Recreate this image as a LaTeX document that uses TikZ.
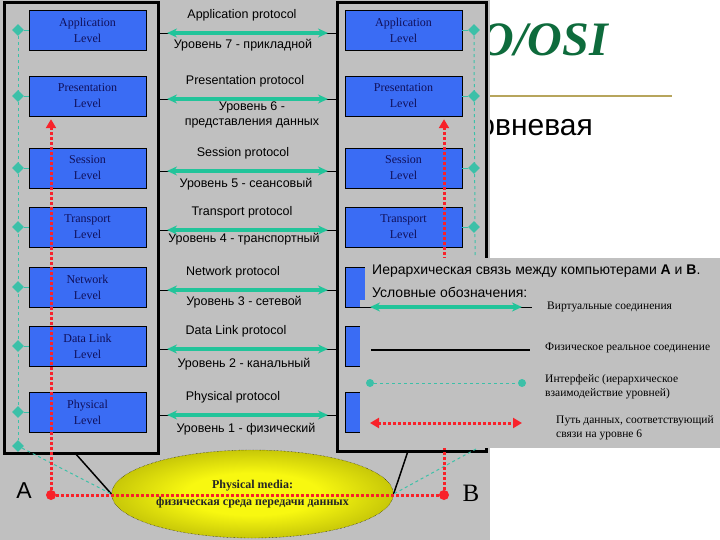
\documentclass[tikz,border=0pt]{standalone}
\usepackage{fontspec}
\setmainfont{Liberation Serif}
\setsansfont{Liberation Sans}
\usetikzlibrary{arrows.meta,shapes.geometric}
\definecolor{panelgray}{HTML}{C0C0C0}
\definecolor{levelblue}{HTML}{3A6CF4}
\definecolor{levelink}{HTML}{10105A}
\definecolor{virtgreen}{HTML}{22C49A}
\definecolor{ifgreen}{HTML}{3CC0A8}
\definecolor{pathred}{HTML}{F8222A}
\definecolor{titlegreen}{HTML}{0E6B3C}
\definecolor{rulegold}{HTML}{B7A55C}
\definecolor{mediayellow}{HTML}{F8F810}
\definecolor{mediaolive}{HTML}{989800}
\pgfdeclareradialshading{mediaglow}{\pgfpoint{0bp}{0bp}}{color(0bp)=(mediayellow);
  color(12bp)=(mediayellow); color(38bp)=(mediaolive); color(50bp)=(mediaolive)}

\tikzset{
  level/.style={draw=black,fill=levelblue,minimum width=117pt,minimum height=40pt,
    inner sep=0pt,align=center,text=levelink,font=\fontsize{12}{16}\selectfont},
  proto/.style={font=\sffamily\fontsize{12.5}{15}\selectfont,inner sep=0pt,align=center},
  frame/.style={draw=black,line width=3pt},
  wire/.style={draw=black,line width=0.8pt},
  virt/.style={virtgreen,line width=3.5pt,{Stealth[length=10pt,width=9pt]}-{Stealth[length=10pt,width=9pt]}},
  ifline/.style={ifgreen,dashed,line width=1pt},
  ifdot/.style={diamond,fill=ifgreen,inner sep=0pt,minimum width=12pt,minimum height=12pt},
  datapath/.style={pathred,dash pattern=on 3pt off 2pt,line width=3pt},
  redtip/.tip={Triangle[length=9pt,width=10pt]},
  legtext/.style={font=\fontsize{11.5}{14}\selectfont,anchor=west,align=left,inner sep=0pt},
  legsans/.style={font=\sffamily\fontsize{14}{16}\selectfont,anchor=west,inner sep=0pt},
}

\begin{document}
\begin{tikzpicture}[x=1pt,y=-1pt]
  \useasboundingbox (0,0) rectangle (720,540);
  \fill[white] (0,0) rectangle (720,540);
  \node[anchor=east,inner sep=0pt,text=titlegreen,font=\bfseries\itshape\fontsize{48}{48}\selectfont] (title) at (608,40) {O/OSI};
  \draw[rulegold,line width=2pt] (480,96) -- (672,96);
  \node[anchor=east,inner sep=0pt,font=\sffamily\fontsize{30}{30}\selectfont] (subtitle) at (593,128) {овневая};
  \fill[panelgray] (0,0) rectangle (490,540);

  \draw[frame] (4,3) rectangle (158,453);
  \draw[frame] (337,3) rectangle (486,451);

  \foreach \n/\t/\lv/\pt/\px/\bt/\bx/\by in {
    1/10/{Application\\Level}/{Application protocol}/242/{Уровень 7 - прикладной}/243/45,
    2/76/{Presentation\\Level}/{Presentation protocol}/245/{Уровень 6 -\\представления данных}/252/114.5,
    3/148/{Session\\Level}/{Session protocol}/243/{Уровень 5 - сеансовый}/246/184,
    4/207/{Transport\\Level}/{Transport protocol}/242/{Уровень 4 - транспортный}/244/239,
    5/267/{Network\\Level}/{Network protocol}/233/{Уровень 3 - сетевой}/244/302,
    6/326/{Data Link\\Level}/{Data Link protocol}/236/{Уровень 2 - канальный}/244/364,
    7/392/{Physical\\Level}/{Physical protocol}/233/{Уровень 1 - физический}/246/429}
  {
    \node[level] (L\n) at (87.5,\t+20) {\lv};
    \node[level] (R\n) at (403.5,\t+20) {\ifnum\n<5 \lv\fi};
    \node[proto] (P\n) at (\px,\t+5) {\pt};
    \node[proto] (U\n) at (\bx,\by) {\bt};
    \coordinate (PL\n) at (158,\t+23);
    \coordinate (PR\n) at (337,\t+23);
    \draw[wire] (PL\n) -- (PR\n);
    \draw[virt] ([xshift=9pt]PL\n) -- ([xshift=-9pt]PR\n);
    \node[ifdot] (DL\n) at (18,\t+20) {};
    \node[ifdot] (DR\n) at (474,\t+20) {};
    \draw[ifgreen] (DL\n) -- (L\n.west);
    \draw[ifgreen] (DR\n) -- (R\n.east);
  }
  \node[ifdot] (DLb) at (18,446) {};
  \coordinate (DRb) at (476,449);
  \draw[ifline] (DL1) -- (DLb);
  \draw[ifline] (DR1) -- (DRb);

  \node[ellipse,draw=black,densely dotted,minimum width=240pt,minimum height=88pt,
    shading=mediaglow,align=center,text=black!85,
    font=\bfseries\fontsize{12}{17}\selectfont] (media) at (252.5,494)
    {Physical media:\\физическая среда передачи данных};
  \coordinate (FLb) at (75,453);
  \coordinate (FRb) at (408,451);
  \draw[black,line width=1.5pt] (FLb) -- (media.west);
  \draw[black,line width=1.5pt] (FRb) -- (media.east);
  \draw[ifline] (DLb) -- (media.west);
  \draw[ifline] (DRb) -- (media.east);

  \node[circle,fill=pathred,minimum size=10pt,inner sep=0pt] (dotA) at (51,495) {};
  \node[circle,fill=pathred,minimum size=10pt,inner sep=0pt] (dotB) at (444,495) {};
  \draw[datapath] (dotA) -- (dotB);
  \draw[datapath,-{redtip}] (dotA) -- ([yshift=-3pt]dotA |- L2.south);
  \draw[datapath,-{redtip}] (dotB) -- ([yshift=-3pt]dotB |- R2.south);
  \node[font=\sffamily\fontsize{23}{23}\selectfont,inner sep=0pt] (labA) at (24,491) {A};
  \node[font=\fontsize{25}{25}\selectfont,inner sep=0pt] (labB) at (471,493) {B};

  \fill[panelgray] (365,258) rectangle (720,300);
  \fill[panelgray] (360,300) rectangle (720,448);
  \node[legsans] (head1) at (372,271) {Иерархическая связь между компьютерами \textbf{A} и \textbf{B}.};
  \node[legsans] (head2) at (372,292) {Условные обозначения:};
  \coordinate (vs1) at (360,307);
  \coordinate (vs2) at (532,307);
  \draw[wire] (vs1) -- (vs2);
  \draw[virt] ([xshift=10pt]vs1) -- ([xshift=-10pt]vs2);
  \node[legtext] (vt) at (547,307) {Виртуальные соединения};
  \coordinate (ps1) at (371,350);
  \coordinate (ps2) at (530,350);
  \draw[black,line width=1.5pt] (ps1) -- (ps2);
  \node[legtext] (pt) at (545,348) {Физическое реальное соединение};
  \node[circle,fill=ifgreen,minimum size=8pt,inner sep=0pt] (is1) at (370,383) {};
  \node[circle,fill=ifgreen,minimum size=8pt,inner sep=0pt] (is2) at (522,383) {};
  \draw[ifline] (is1) -- (is2);
  \node[legtext] (it) at (545,387) {Интерфейс (иерархическое\\взаимодействие уровней)};
  \coordinate (ds1) at (370,423);
  \coordinate (ds2) at (522,423);
  \draw[datapath,{redtip}-{redtip}] (ds1) -- (ds2);
  \node[legtext] (dt) at (556,428) {Путь данных, соответствующий\\связи на уровне 6};
\end{tikzpicture}
\end{document}
